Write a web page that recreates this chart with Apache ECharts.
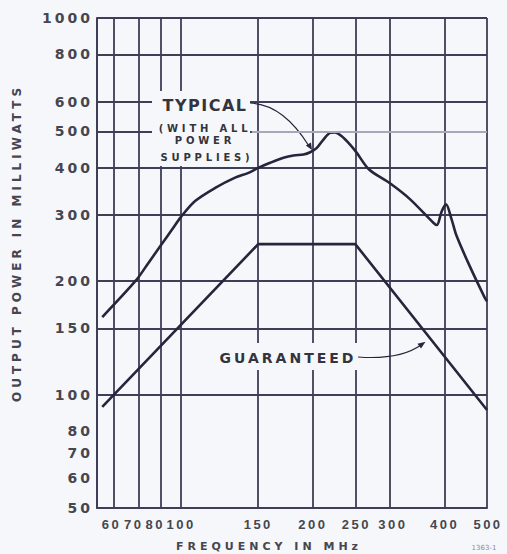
<!DOCTYPE html>
<html>
<head>
<meta charset="utf-8">
<script src="https://cdn.jsdelivr.net/npm/echarts@6/dist/echarts.min.js"></script>
<style>
html, body { margin: 0; padding: 0; background: #f6f7fb; }
#chart { width: 507px; height: 554px; }
#chart text[style*="10px"] { letter-spacing: 3.8px; }
#chart text[style*="11px"] { letter-spacing: 4px; }
#chart text[style*="12px"] { letter-spacing: 4px; }
#chart text[style*="13px"] { letter-spacing: 2.5px; }
#chart text[style*="14px"] { letter-spacing: 3px; }
#chart text[style*="16px"] { letter-spacing: 1.5px; }
</style>
</head>
<body>
<div id="chart"></div>
<script>
// ---- data ----
const typicalFreq  = [66, 78.8, 84, 89.6, 95.2, 100, 107.6, 119.6, 132.8, 142.5, 150, 159.7, 171.3, 180.5, 190.3, 197.1, 204.2, 211.4, 218.9, 224.7, 232.8, 243.2, 252, 268.8, 300, 333.7, 377, 384, 394, 403, 415, 426, 456, 494, 500];
const typicalPower = [160.7, 201, 223, 248, 274, 297, 326.6, 354, 377, 388, 400, 412.6, 425.5, 431.6, 434, 440, 452, 475.7, 495.5, 497, 485, 461, 438.5, 396, 364, 330, 286, 282, 307, 320, 292, 264, 220, 181, 177];
const guaranteedFreq  = [66, 150, 250, 500];
const guaranteedPower = [92.8, 251, 251, 91];

const xGridValues = [70, 80, 90, 100, 150, 200, 250, 300, 400, 500];
const xTickLabels = ['60', '70', '80', '100', '150', '200', '250', '300', '400', '500'];
const yGridValues = [50, 100, 150, 200, 300, 400, 500, 600, 800, 1000];
const yLabelValues = [50, 60, 70, 80, 100, 150, 200, 300, 400, 500, 600, 800, 1000];
const yTickLabels = ['50', '60', '70', '80', '100', '150', '200', '300', '400', '500', '600', '800', '1000'];

const xTitle = 'FREQUENCY IN MHz';
const yTitle = 'OUTPUT POWER IN MILLIWATTS';
const noteTypical = ['TYPICAL', '(WITH ALL', 'POWER', 'SUPPLIES)'];
const noteGuaranteed = 'GUARANTEED';
const figureId = '1363-1';

// ---- styling ----
const BG = '#f6f7fb';
const GRID = '#3e3e58';
const CURVE = '#25253c';
const LABEL = '#46464f';
const TEXT = '#34343c';
const FONT = "'DejaVu Sans', sans-serif";
const XFONT = "'Liberation Sans', Arial, sans-serif";

// horizontal nudges of the printed x tick labels (style only)
const xLabelShift = [-2, -5, -6, 0, 0, 0, 1, 3, 0, 1];

function pair(xs, ys) { return xs.map((x, i) => [x, ys[i]]); }
function nearestIndex(arr, v) {
  let best = 0, bd = Infinity;
  arr.forEach((a, i) => { const d = Math.abs(Math.log(a) - Math.log(v)); if (d < bd) { bd = d; best = i; } });
  return best;
}

const xRich = {};
xLabelShift.forEach((s, i) => {
  xRich['k' + i] = {
    fontSize: 13, fontWeight: 'bold', fontFamily: XFONT, color: LABEL,
    padding: s < 0 ? [0, -2 * s, 0, 0] : [0, 0, 0, 2 * s]
  };
});

const chart = echarts.init(document.getElementById('chart'), null, { renderer: 'svg' });

const option = {
  animation: false,
  backgroundColor: BG,
  grid: { left: 97, right: 20, top: 18, bottom: 46, containLabel: false },
  xAxis: {
    type: 'log', logBase: 10, min: 64.2, max: 500,
    axisLine: { show: true, lineStyle: { color: GRID, width: 2 } },
    axisTick: { show: false, customValues: xGridValues },
    minorTick: { show: false },
    splitLine: { show: true, lineStyle: { color: GRID, width: 1.8 } },
    minorSplitLine: { show: false },
    axisLabel: {
      customValues: xGridValues,
      hideOverlap: false,
      margin: 10,
      fontSize: 13, fontWeight: 'bold', fontFamily: XFONT, color: LABEL,
      formatter: function (v) {
        const i = nearestIndex(xGridValues, v);
        return '{k' + i + '|' + xTickLabels[i] + '}';
      },
      rich: xRich
    }
  },
  yAxis: {
    type: 'log', logBase: 10, min: 50, max: 1000,
    axisLine: { show: true, lineStyle: { color: GRID, width: 2 } },
    axisTick: { show: false, customValues: yGridValues },
    minorTick: { show: false },
    splitLine: { show: true, lineStyle: { color: GRID, width: 1.8 } },
    minorSplitLine: { show: false },
    axisLabel: {
      customValues: yLabelValues,
      hideOverlap: false,
      margin: 4,
      fontSize: 14, fontWeight: 'bold', fontFamily: FONT, color: LABEL,
      formatter: function (v) { return yTickLabels[nearestIndex(yLabelValues, v)]; }
    }
  },
  series: [
    {
      name: 'light500', type: 'line', data: [], z: 1, silent: true,
      markLine: {
        silent: true, symbol: ['none', 'none'], label: { show: false },
        lineStyle: { color: '#a4a9b9', width: 2, type: 'solid' },
        data: [[{ coord: [145, 500] }, { coord: [500, 500] }]]
      }
    },
    {
      name: 'Typical', type: 'line', z: 3, data: pair(typicalFreq, typicalPower),
      showSymbol: false, symbol: 'none', smooth: 0.3,
      lineStyle: { color: CURVE, width: 2.6 }
    },
    {
      name: 'Guaranteed', type: 'line', z: 3, data: pair(guaranteedFreq, guaranteedPower),
      showSymbol: false, symbol: 'none', smooth: false,
      lineStyle: { color: CURVE, width: 2.6 }
    }
  ],
  graphic: [
    // masks that interrupt the grid behind the annotations
    { type: 'rect', z: 1, silent: true, shape: { x: 152, y: 91, width: 98, height: 75 }, style: { fill: BG } },
    { type: 'rect', z: 1, silent: true, shape: { x: 215, y: 343, width: 143, height: 27 }, style: { fill: BG } },
    // annotation texts
    { type: 'text', z: 5, x: 205, y: 105, style: { text: noteTypical[0], font: "bold 16px 'DejaVu Sans'", fill: TEXT, textAlign: 'center', textVerticalAlign: 'middle' } },
    { type: 'text', z: 5, x: 205, y: 128, style: { text: noteTypical[1], font: "bold 10px 'DejaVu Sans'", fill: TEXT, textAlign: 'center', textVerticalAlign: 'middle' } },
    { type: 'text', z: 5, x: 205, y: 140, style: { text: noteTypical[2], font: "bold 10px 'DejaVu Sans'", fill: TEXT, textAlign: 'center', textVerticalAlign: 'middle' } },
    { type: 'text', z: 5, x: 207, y: 157, style: { text: noteTypical[3], font: "bold 10px 'DejaVu Sans'", fill: TEXT, textAlign: 'center', textVerticalAlign: 'middle' } },
    { type: 'text', z: 5, x: 288, y: 358, style: { text: noteGuaranteed, font: "bold 14px 'DejaVu Sans'", fill: TEXT, textAlign: 'center', textVerticalAlign: 'middle' } },
    // leaders with arrowheads
    { type: 'bezierCurve', z: 5, silent: true, shape: { x1: 250, y1: 103, cpx1: 283, cpy1: 104, x2: 309, y2: 146 }, style: { stroke: CURVE, lineWidth: 1.2, fill: null } },
    { type: 'polygon', z: 5, silent: true, shape: { points: [[312, 150], [305.8, 145.6], [311, 142.4]] }, style: { fill: CURVE } },
    { type: 'bezierCurve', z: 5, silent: true, shape: { x1: 358, y1: 357, cpx1: 400, cpy1: 360, x2: 421, y2: 345 }, style: { stroke: CURVE, lineWidth: 1.2, fill: null } },
    { type: 'polygon', z: 5, silent: true, shape: { points: [[425.5, 341.7], [421, 348.5], [417.5, 343.7]] }, style: { fill: CURVE } },
    // axis titles
    { type: 'text', z: 5, x: 269, y: 546, style: { text: xTitle, font: "bold 11px 'DejaVu Sans'", fill: LABEL, textAlign: 'center', textVerticalAlign: 'middle' } },
    { type: 'text', z: 5, x: 17, y: 243, rotation: Math.PI / 2, style: { text: yTitle, font: "bold 12px 'DejaVu Sans'", fill: LABEL, textAlign: 'center', textVerticalAlign: 'middle' } },
    { type: 'text', z: 5, x: 484, y: 548, style: { text: figureId, font: "7px 'DejaVu Sans'", fill: '#8a8a95', textAlign: 'center', textVerticalAlign: 'middle' } }
  ]
};

chart.setOption(option);
</script>
</body>
</html>
